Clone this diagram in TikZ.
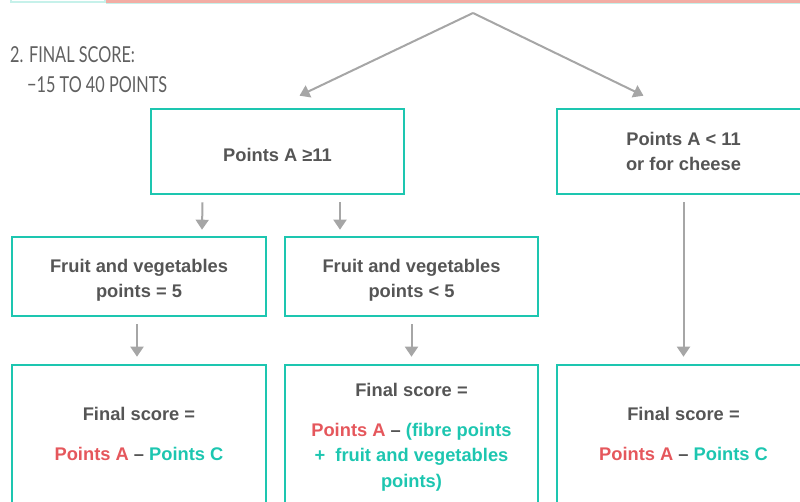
\documentclass[tikz,border=0pt]{standalone}
\usepackage{fontspec}
\setmainfont{Liberation Sans}
\newfontfamily\headfont{Lato}[FakeStretch=0.74]
\usetikzlibrary{arrows.meta}
\definecolor{teal}{HTML}{1DC6B0}
\definecolor{tealpale}{HTML}{C6F1EA}
\definecolor{salmon}{HTML}{F2ADA4}
\definecolor{redpts}{HTML}{E5575C}
\definecolor{txtgray}{HTML}{555555}
\definecolor{headgray}{HTML}{606060}
\definecolor{arrgray}{HTML}{A6A6A6}
\tikzset{
  boxtxt/.style={align=center, text=txtgray, font=\fontsize{18.3}{25.5}\selectfont\bfseries},
  box/.style={draw=teal, line width=2.6pt, minimum width=253pt, boxtxt},
  arr/.style={draw=arrgray, line width=2pt, -{Triangle[width=13pt,length=10pt]}},
  head/.style={anchor=base west, inner sep=0pt, text=headgray,
    font=\headfont\fontsize{22}{26}\selectfont},
}
\newcommand{\ptsA}{\textcolor{redpts}{Points A}}
\newcommand{\ptsC}{\textcolor{teal}{Points C}}
\begin{document}
\begin{tikzpicture}[x=1pt,y=-1pt]
\useasboundingbox (0,0) rectangle (800,501);
\clip (0,0) rectangle (800,501);

% strip at the top
\draw [tealpale, line width=1.5pt] (11,-20) rectangle (105,2);
\fill [salmon] (106,-5) rectangle (800,2.5);
\draw [tealpale, line width=1.2pt] (106,3.6) -- (800,3.6);

% heading
\node [head] (title) at (10,62) {2. FINAL SCORE:};
\node [head] (range) at (27,92) {\textminus15 TO 40 POINTS};

% first level
\node [box, minimum height=85pt,
  label={[boxtxt, yshift=-3pt]center:Points A ≥11}] (pa11) at (277.5,151.5) {};
\node [box, minimum height=85pt] (pa11lt) at (683.5,151.5) {Points A < 11\\or for cheese};

% second level
\node [box, minimum width=254pt, minimum height=79pt,
  label={[boxtxt, yshift=-4pt]center:{Fruit and vegetables\\points = 5}}] (fv5) at (139,276.5) {};
\node [box, minimum height=79pt,
  label={[boxtxt, yshift=-4pt]center:{Fruit and vegetables\\points < 5}}] (fvlt5) at (411.5,276.5) {};

% final scores
\node [box, minimum width=254pt, minimum height=138pt] (fs1) at (139,434)
  {Final score =\\[15pt]\ptsA{} \textendash{} \ptsC};
\node [box, minimum height=138pt,
  label={[boxtxt, yshift=-3.5pt]center:{Final score =\\[14pt]\ptsA{} \textendash{} \textcolor{teal}{(fibre points}\\
   \textcolor{teal}{+\ \ fruit and vegetables}\\ \textcolor{teal}{points)}}}] (fs2) at (411.5,434) {};
\node [box, minimum height=138pt] (fs3) at (683.5,434)
  {Final score =\\[15pt]\ptsA{} \textendash{} \ptsC};

% arrows
\coordinate (apex) at (473,13);
\draw [arr] (apex) -- ([xshift=22pt,yshift=12pt]pa11.north);
\draw [arr] (apex) -- ([xshift=-40pt,yshift=12pt]pa11lt.north);
\draw [arr] ([xshift=-75pt,yshift=-7pt]pa11.south) -- ([xshift=63pt,yshift=6pt]fv5.north);
\draw [arr] ([xshift=62.5pt,yshift=-7pt]pa11.south) -- ([xshift=-71.5pt,yshift=6pt]fvlt5.north);
\draw [arr] ([xshift=-2pt,yshift=-7pt]fv5.south) -- ([xshift=-2pt,yshift=7pt]fs1.north);
\draw [arr] ([yshift=-7pt]fvlt5.south) -- ([yshift=7pt]fs2.north);
\draw [arr] ([yshift=-7pt]pa11lt.south) -- ([yshift=7pt]fs3.north);
\end{tikzpicture}
\end{document}
